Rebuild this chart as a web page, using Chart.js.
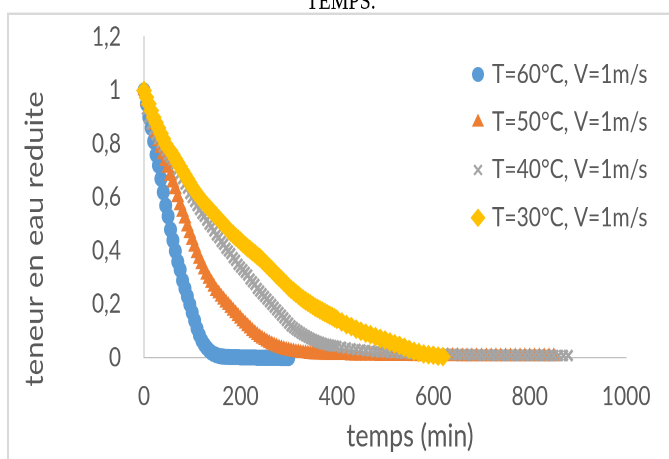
<!DOCTYPE html>
<html>
<head>
<meta charset="utf-8">
<script src="https://cdn.jsdelivr.net/npm/chart.js"></script>
<style>
  html, body { margin: 0; padding: 0; background: #fff; overflow: hidden; }
  /* the source image is stretched vertically, so the whole chart is too */
  #wrap { position: absolute; left: 0; top: 0; width: 669px; height: 367px; transform: scaleY(1.2507); transform-origin: 0 0; }
</style>
</head>
<body>
<div id="wrap"><canvas id="dryingChart" width="669" height="367"></canvas></div>
<script>
// sampling times (min), shared by all series
var minutes = [
    0, 5, 10, 15, 20, 25, 30, 35, 40, 45, 50, 55, 60, 65, 70, 75, 80, 85, 90, 95,
    100, 105, 110, 115, 120, 125, 130, 135, 140, 145, 150, 155, 160, 165, 170, 175, 180, 185, 190, 195,
    200, 205, 210, 215, 220, 225, 230, 235, 240, 245, 250, 255, 260, 265, 270, 275, 280, 285, 290, 295,
    300, 305, 310, 315, 320, 325, 330, 335, 340, 345, 350, 355, 360, 365, 370, 375, 380, 385, 390, 395,
    400, 410, 420, 430, 440, 450, 460, 470, 480, 490, 500, 510, 520, 530, 540, 550, 560, 570, 580, 590,
    600, 610, 620, 630, 640, 650, 660, 670, 680, 690, 700, 710, 720, 730, 740, 750, 760, 770, 780, 790,
    800, 810, 820, 830, 840, 850, 860, 870, 880
];

// reduced moisture content, one list per drying temperature
var teneur60 = [
    1.00, 0.95, 0.90, 0.86, 0.81, 0.76, 0.72, 0.67, 0.62, 0.57,
    0.53, 0.48, 0.44, 0.40, 0.36, 0.33, 0.29, 0.26, 0.23, 0.20,
    0.17, 0.14, 0.11, 0.085, 0.065, 0.05, 0.038, 0.028, 0.02, 0.015,
    0.011, 0.008, 0.006, 0.005, 0.004, 0.004, 0.003, 0.003, 0.003, 0.003,
    0.002, 0.002, 0.002, 0.002, 0.002, 0.002, 0.002, 0.001, 0.001, 0.001,
    0.001, 0.001, 0.001, 0.001, 0.001, 0.001, 0.001, 0, 0, 0,
    0
];
var teneur50 = [
    1.00, 0.96, 0.93, 0.90, 0.87, 0.84, 0.81, 0.785, 0.76, 0.735,
    0.71, 0.68, 0.655, 0.63, 0.60, 0.57, 0.545, 0.52, 0.49, 0.465,
    0.44, 0.415, 0.39, 0.37, 0.35, 0.33, 0.31, 0.295, 0.28, 0.265,
    0.25, 0.24, 0.228, 0.217, 0.206, 0.196, 0.186, 0.176, 0.166, 0.156,
    0.146, 0.136, 0.127, 0.118, 0.109, 0.1, 0.092, 0.084, 0.077, 0.071,
    0.065, 0.06, 0.055, 0.05, 0.046, 0.042, 0.038, 0.035, 0.032, 0.029,
    0.027, 0.025, 0.023, 0.021, 0.02, 0.018, 0.017, 0.016, 0.015, 0.014,
    0.013, 0.012, 0.012, 0.011, 0.011, 0.01, 0.01, 0.01, 0.009, 0.009,
    0.009, 0.009, 0.009, 0.008, 0.008, 0.008, 0.008, 0.008, 0.008, 0.007,
    0.007, 0.007, 0.007, 0.007, 0.007, 0.007, 0.006, 0.006, 0.006, 0.006,
    0.006, 0.006, 0.006, 0.006, 0.006, 0.006, 0.005, 0.005, 0.005, 0.005,
    0.005, 0.005, 0.005, 0.005, 0.005, 0.005, 0.005, 0.005, 0.005, 0.005,
    0.005, 0.005, 0.005, 0.005, 0.005, 0.005
];
var teneur40 = [
    1.00, 0.93, 0.90, 0.875, 0.855, 0.835, 0.82, 0.805, 0.79, 0.775,
    0.76, 0.75, 0.74, 0.725, 0.705, 0.69, 0.67, 0.65, 0.635, 0.615,
    0.60, 0.585, 0.57, 0.555, 0.54, 0.53, 0.515, 0.50, 0.49, 0.475,
    0.46, 0.45, 0.435, 0.425, 0.41, 0.40, 0.39, 0.375, 0.365, 0.35,
    0.34, 0.33, 0.32, 0.31, 0.295, 0.285, 0.275, 0.26, 0.25, 0.24,
    0.23, 0.22, 0.21, 0.20, 0.19, 0.18, 0.17, 0.16, 0.15, 0.14,
    0.13, 0.12, 0.113, 0.106, 0.10, 0.094, 0.088, 0.083, 0.078, 0.073,
    0.069, 0.065, 0.061, 0.058, 0.055, 0.052, 0.05, 0.048, 0.046, 0.045,
    0.043, 0.04, 0.037, 0.034, 0.032, 0.03, 0.028, 0.026, 0.024, 0.023,
    0.022, 0.021, 0.02, 0.019, 0.018, 0.017, 0.016, 0.016, 0.015, 0.015,
    0.014, 0.014, 0.013, 0.013, 0.013, 0.012, 0.012, 0.012, 0.012, 0.011,
    0.011, 0.011, 0.011, 0.011, 0.01, 0.01, 0.01, 0.01, 0.01, 0.01,
    0.01, 0.01, 0.01, 0.01, 0.009, 0.009, 0.009, 0.009, 0.009
];
var teneur30 = [
    1.00, 0.975, 0.95, 0.925, 0.90, 0.88, 0.86, 0.84, 0.82, 0.80,
    0.785, 0.775, 0.76, 0.745, 0.73, 0.715, 0.70, 0.685, 0.67, 0.655,
    0.64, 0.627, 0.615, 0.602, 0.59, 0.58, 0.57, 0.56, 0.55, 0.54,
    0.53, 0.52, 0.51, 0.50, 0.49, 0.48, 0.47, 0.462, 0.453, 0.445,
    0.437, 0.428, 0.42, 0.412, 0.405, 0.397, 0.39, 0.382, 0.375, 0.366,
    0.357, 0.348, 0.339, 0.33, 0.32, 0.311, 0.302, 0.293, 0.284, 0.275,
    0.265, 0.257, 0.25, 0.242, 0.235, 0.227, 0.22, 0.214, 0.208, 0.202,
    0.196, 0.19, 0.185, 0.18, 0.175, 0.17, 0.165, 0.16, 0.155, 0.15,
    0.145, 0.135, 0.125, 0.117, 0.108, 0.10, 0.093, 0.087, 0.08, 0.073,
    0.067, 0.06, 0.053, 0.047, 0.04, 0.032, 0.025, 0.02, 0.015, 0.012,
    0.01, 0.007, 0.005
];

var seriesLabels = ['T=60°C, V=1m/s', 'T=50°C, V=1m/s', 'T=40°C, V=1m/s', 'T=30°C, V=1m/s'];
var xTickLabels = ['0', '200', '400', '600', '800', '1000'];
var yTickLabels = ['0', '0,2', '0,4', '0,6', '0,8', '1', '1,2'];

var colors = ['#5B9BD5', '#ED7D31', '#A5A5A5', '#FFC000'];
var markers = ['circle', 'triangle', 'crossRot', 'rectRot'];
var markerSizes = [6.5, 7.5, 6, 8];
var textColor = '#595959';

function toPoints(values) {
    return values.map(function (v, i) { return { x: minutes[i], y: v }; });
}

function makeDataset(i, values) {
    return {
        label: seriesLabels[i],
        data: toPoints(values),
        pointStyle: markers[i],
        pointRadius: markerSizes[i],
        pointHoverRadius: markerSizes[i],
        backgroundColor: colors[i],
        borderColor: colors[i],
        borderWidth: markers[i] === 'crossRot' ? 2.5 : 0,
        showLine: false,
        clip: false,
        order: 3 - i // later series sit on top, like Excel
    };
}

// legend marker, drawn by hand so the legend can sit over the plot
function drawMarker(ctx, style, x, y, r, color) {
    ctx.fillStyle = color;
    ctx.strokeStyle = color;
    ctx.beginPath();
    if (style === 'circle') {
        ctx.arc(x, y, r, 0, Math.PI * 2);
        ctx.fill();
    } else if (style === 'triangle') {
        ctx.moveTo(x, y - r);
        ctx.lineTo(x + r * 0.866, y + r * 0.5);
        ctx.lineTo(x - r * 0.866, y + r * 0.5);
        ctx.closePath();
        ctx.fill();
    } else if (style === 'crossRot') {
        var d = r * Math.SQRT1_2;
        ctx.lineWidth = 2;
        ctx.moveTo(x - d, y - d); ctx.lineTo(x + d, y + d);
        ctx.moveTo(x - d, y + d); ctx.lineTo(x + d, y - d);
        ctx.stroke();
    } else {
        ctx.moveTo(x, y - r); ctx.lineTo(x + r, y);
        ctx.lineTo(x, y + r); ctx.lineTo(x - r, y);
        ctx.closePath();
        ctx.fill();
    }
}

var decorPlugin = {
    id: 'decor',
    beforeDraw: function (chart) {
        var ctx = chart.ctx;
        ctx.save();
        ctx.strokeStyle = '#D9D9D9';
        ctx.lineWidth = 2;
        ctx.strokeRect(8, 11, 720, 420);
        ctx.fillStyle = '#000';
        ctx.font = '20px "Liberation Serif"';
        ctx.textAlign = 'center';
        ctx.textBaseline = 'alphabetic';
        ctx.fillText('TEMPS.', 341, 7);
        ctx.restore();
    },
    afterDraw: function (chart) {
        var ctx = chart.ctx;
        ctx.save();
        ctx.fillStyle = textColor;
        ctx.font = '25px Lato';
        ctx.textAlign = 'center';
        ctx.textBaseline = 'middle';
        ctx.fillText('temps (min)', 410, 349);

        ctx.translate(43, 191);
        ctx.rotate(-Math.PI / 2);
        ctx.textBaseline = 'alphabetic';
        ctx.fillText('teneur en eau reduite', 0, 0);
        ctx.restore();

        ctx.save();
        ctx.font = '21px Lato';
        ctx.textAlign = 'left';
        ctx.textBaseline = 'middle';
        for (var i = 0; i < seriesLabels.length; i++) {
            var y = 59.5 + i * 38.2;
            drawMarker(ctx, markers[i], 478, y, markerSizes[i] - 0.5, colors[i]);
            ctx.fillStyle = textColor;
            ctx.fillText(seriesLabels[i], 492, y);
        }
        ctx.restore();
    }
};

var ctx = document.getElementById('dryingChart').getContext('2d');
var dryingChart = new Chart(ctx, {
    type: 'scatter',
    data: {
        datasets: [
            makeDataset(0, teneur60),
            makeDataset(1, teneur50),
            makeDataset(2, teneur40),
            makeDataset(3, teneur30)
        ]
    },
    options: {
        responsive: false,
        devicePixelRatio: 2,
        animation: false,
        events: [],
        layout: { padding: { left: 0, top: 29.6, right: 38, bottom: 0 } },
        plugins: {
            legend: { display: false },
            tooltip: { enabled: false }
        },
        scales: {
            x: {
                type: 'linear',
                min: 0,
                max: 1000,
                afterFit: function (scale) { scale.height = 80.8; },
                grid: { display: false, drawTicks: false },
                border: { display: true, color: '#BFBFBF', width: 1 },
                ticks: {
                    stepSize: 200,
                    padding: 18.5,
                    maxRotation: 0,
                    color: textColor,
                    font: { family: 'Lato', size: 21 },
                    callback: function (v, i) { return xTickLabels[i]; }
                }
            },
            y: {
                min: 0,
                max: 1.2,
                afterFit: function (scale) {
                    scale.width = 144;
                    // tick padding would otherwise push the plot top down
                    scale.paddingTop = 12;
                    scale.paddingBottom = 12;
                },
                grid: { display: false, drawTicks: false },
                border: { display: true, color: '#BFBFBF', width: 1 },
                ticks: {
                    stepSize: 0.2,
                    padding: 23,
                    color: textColor,
                    font: { family: 'Lato', size: 21 },
                    callback: function (v, i) { return yTickLabels[i]; }
                }
            }
        }
    },
    plugins: [decorPlugin]
});
</script>
</body>
</html>
